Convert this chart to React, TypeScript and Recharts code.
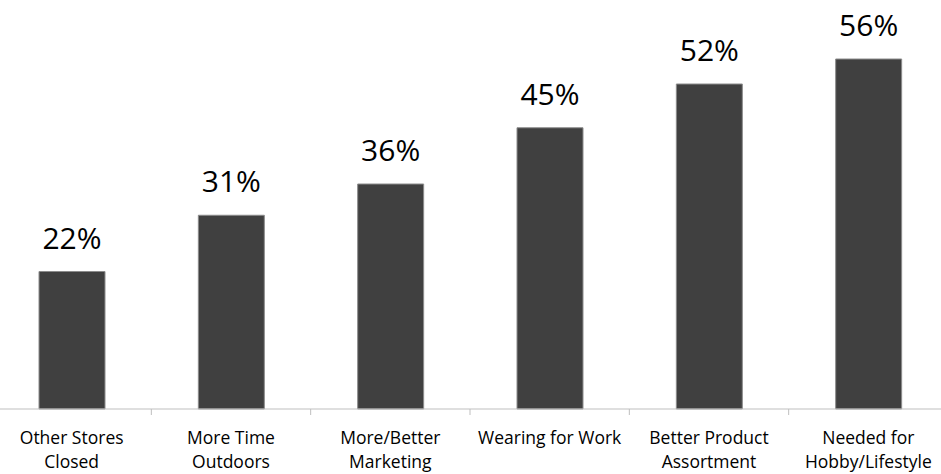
import React from "react";
import { BarChart, Bar, XAxis, YAxis, LabelList } from "recharts";

const categories = [
  "Other Stores\nClosed",
  "More Time\nOutdoors",
  "More/Better\nMarketing",
  "Wearing for Work",
  "Better Product\nAssortment",
  "Needed for\nHobby/Lifestyle",
];
const values = [22, 31, 36, 45, 52, 56];

const data = categories.map((c, i) => ({ name: c, value: values[i] }));

const CHART_W = 956;
const CHART_H = 474;
const M_TOP = 59;
const AXIS_H = 65;
const BAND = CHART_W / categories.length;
const FONT = "'Open Sans', 'Liberation Sans', sans-serif";

const Tick = (props: any) => {
  const { x, payload, index } = props;
  const axisY = CHART_H - AXIS_H;
  const lines = String(payload.value).split("\n");
  return (
    <g>
      {index < categories.length - 1 && (
        <line x1={x + BAND / 2} x2={x + BAND / 2} y1={axisY} y2={axisY + 6} stroke="#bfbfbf" strokeWidth={1} />
      )}
      <text x={x} y={axisY + 35} textAnchor="middle" fontFamily={FONT} fontSize={17.5} fill="#000">
        {lines.map((l, i) => (
          <tspan key={i} x={x} dy={i === 0 ? 0 : 24}>
            {l}
          </tspan>
        ))}
      </text>
    </g>
  );
};

export default function App() {
  return (
    <div style={{ position: "fixed", left: 0, top: 0, width: 941, height: 474, overflow: "hidden", background: "#fff" }}>
      <div style={{ position: "absolute", left: -8, top: 0 }}>
        <BarChart width={CHART_W} height={CHART_H} data={data} margin={{ top: M_TOP, right: 0, bottom: 0, left: 0 }}>
          <XAxis
            dataKey="name"
            height={AXIS_H}
            interval={0}
            tickLine={false}
            axisLine={{ stroke: "#bfbfbf" }}
            tick={<Tick />}
          />
          <YAxis hide domain={[0, 56]} />
          <Bar dataKey="value" fill="#404040" stroke="#8c8c8c" strokeWidth={1} barSize={66} isAnimationActive={false}>
            <LabelList
              dataKey="value"
              position="top"
              offset={23}
              formatter={(v: any) => `${v}%`}
              style={{ fontFamily: FONT, fontSize: 30, fill: "#000" }}
            />
          </Bar>
        </BarChart>
      </div>
    </div>
  );
}
